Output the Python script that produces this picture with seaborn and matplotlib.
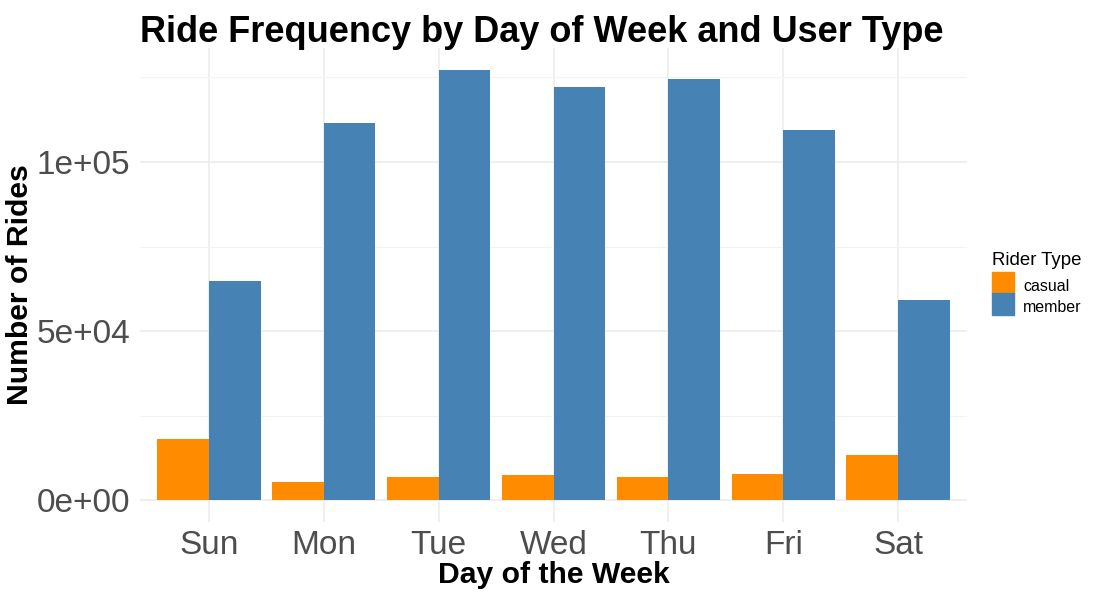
import matplotlib
matplotlib.use("Agg")
import matplotlib.pyplot as plt
import seaborn as sns
import pandas as pd
from matplotlib.ticker import FixedLocator, FuncFormatter
from matplotlib.legend_handler import HandlerPatch

# ride counts
days = ["Sun", "Mon", "Tue", "Wed", "Thu", "Fri", "Sat"]
casual = [18200, 5500, 7000, 7600, 7000, 7900, 13500]
member = [64900, 111600, 127300, 122000, 124600, 109500, 59300]
rider_types = ["casual", "member"]
colors = {"casual": "#FF8C00", "member": "#4682B4"}

df = pd.DataFrame({
    "day": days * 2,
    "rides": casual + member,
    "rider_type": ["casual"] * len(days) + ["member"] * len(days),
})

sns.set_style("white")
plt.rcParams["font.family"] = ["Liberation Sans", "DejaVu Sans"]
plt.rcParams["text.color"] = "black"
plt.rcParams["axes.labelcolor"] = "black"

fig = plt.figure(figsize=(11, 6), dpi=100)
ax = fig.add_axes([140 / 1100, 78 / 600, 827 / 1100, 474 / 600])

sns.barplot(data=df, x="day", y="rides", hue="rider_type", order=days,
            hue_order=rider_types, palette=colors, width=0.9, saturation=1,
            linewidth=0, ax=ax)

top = max(casual + member)
ax.set_xlim(-0.6, len(days) - 0.4)
ax.set_ylim(-top * 0.05, top * 1.05)

ax.yaxis.set_major_locator(FixedLocator([0, 50000, 100000]))
ax.yaxis.set_minor_locator(FixedLocator([25000, 75000, 125000]))
ax.yaxis.set_major_formatter(FuncFormatter(lambda v, p: f"{v:.0e}"))
ax.grid(True, which="major", color="#EBEBEB", linewidth=1.1)
ax.grid(True, which="minor", axis="y", color="#F3F3F3", linewidth=0.8)
ax.set_axisbelow(True)
for s in ax.spines.values():
    s.set_visible(False)

ax.tick_params(axis="both", which="both", length=0, labelsize=24, colors="#4D4D4D")
ax.tick_params(axis="y", pad=7)
ax.tick_params(axis="x", pad=6)

ax.set_xlabel("Day of the Week", fontsize=21.7, fontweight="bold", labelpad=0)
ax.set_ylabel("Number of Rides", fontsize=21.7, fontweight="bold", labelpad=1.5)
ax.set_title("Ride Frequency by Day of Week and User Type", loc="left",
             fontsize=26, fontweight="bold", pad=4, color="black")


# legend keys filling the whole key box, like ggplot's
def full_key(legend, orig_handle, xdescent, ydescent, width, height, fontsize):
    return plt.Rectangle((-xdescent, -ydescent), width, height + ydescent)


ax.get_legend().remove()
fig.text(992 / 1100, 1 - 265 / 600, "Rider Type", fontsize=13.4, va="baseline")
handles = [plt.Rectangle((0, 0), 1, 1, color=colors[t]) for t in rider_types]
leg = fig.legend(handles, rider_types, loc="upper left",
                 bbox_to_anchor=(992 / 1100, 1 - 276 / 600), frameon=False,
                 fontsize=11.5, handlelength=1.375, handleheight=1.4,
                 handletextpad=0.56, labelspacing=0.16,
                 borderpad=0, borderaxespad=0,
                 handler_map={plt.Rectangle: HandlerPatch(patch_func=full_key)})

fig.savefig("out.png", dpi=100)
